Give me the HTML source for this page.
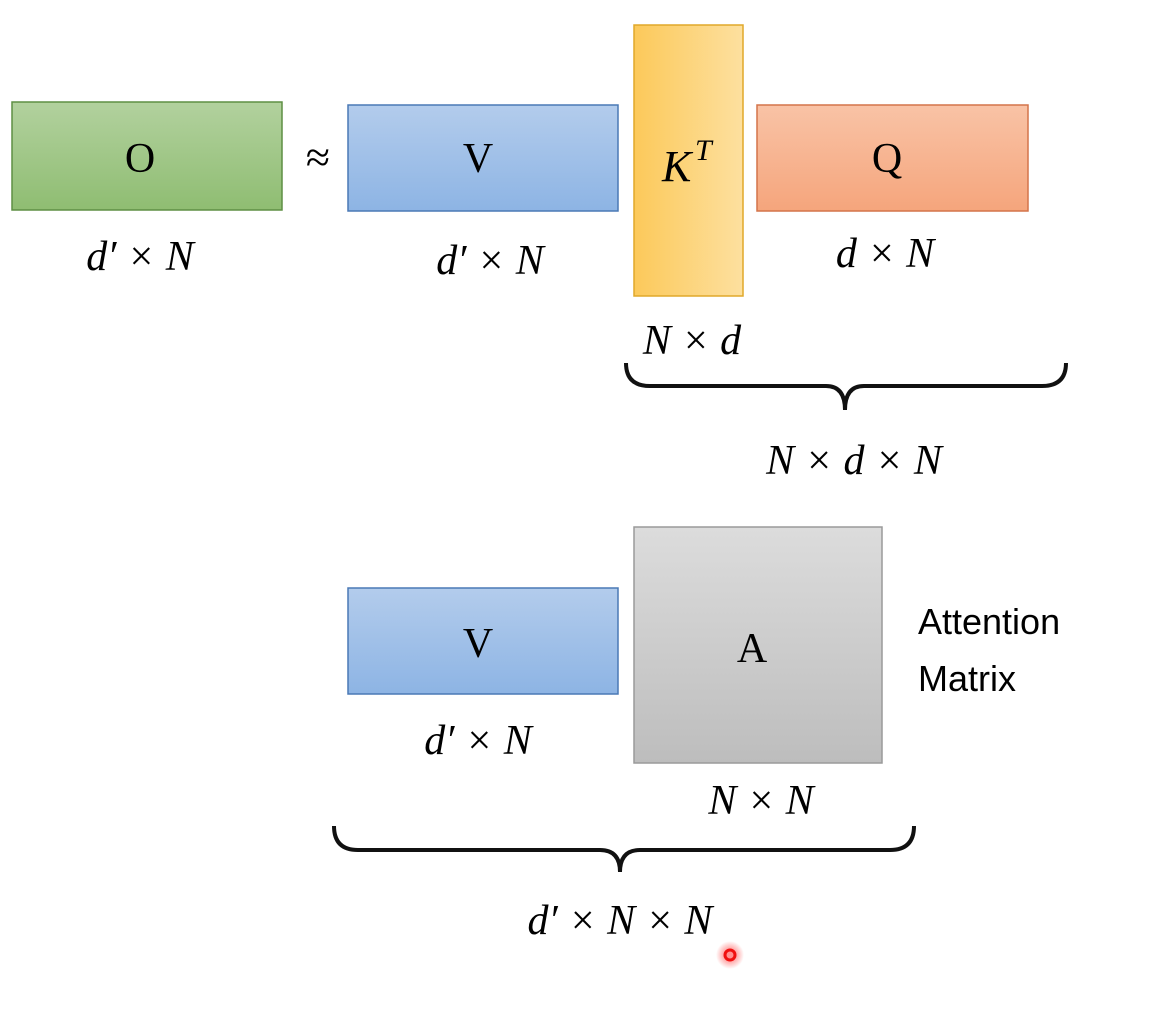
<!DOCTYPE html>
<html><head><meta charset="utf-8"><style>
html,body{margin:0;padding:0;background:#fff}
svg text{font-family:"Liberation Serif",serif}
</style></head><body>
<svg width="1165" height="1021" viewBox="0 0 1165 1021" xmlns="http://www.w3.org/2000/svg">
<defs>
<linearGradient id="g" x1="0" y1="0" x2="0" y2="1"><stop offset="0" stop-color="#b2d19e"/><stop offset="1" stop-color="#8fbd72"/></linearGradient>
<linearGradient id="b" x1="0" y1="0" x2="0" y2="1"><stop offset="0" stop-color="#b3ccec"/><stop offset="1" stop-color="#8db4e4"/></linearGradient>
<linearGradient id="y" x1="0" y1="0" x2="1" y2="0"><stop offset="0" stop-color="#fcc95a"/><stop offset="1" stop-color="#fde09f"/></linearGradient>
<linearGradient id="o" x1="0" y1="0" x2="0" y2="1"><stop offset="0" stop-color="#f9c3a6"/><stop offset="1" stop-color="#f5a57c"/></linearGradient>
<linearGradient id="gr" x1="0" y1="0" x2="0" y2="1"><stop offset="0" stop-color="#dcdcdc"/><stop offset="1" stop-color="#bdbdbd"/></linearGradient>
<radialGradient id="rd"><stop offset="0.3" stop-color="#ff2020"/><stop offset="1" stop-color="#ff2020" stop-opacity="0"/></radialGradient>
</defs>
<rect x="12" y="102" width="270" height="108" fill="url(#g)" stroke="#5e8f44" stroke-width="1.5"/>
<text x="140" y="172" font-size="42" text-anchor="middle">O</text>
<text x="318" y="172" font-size="44" text-anchor="middle">≈</text>
<rect x="348" y="105" width="270" height="106" fill="url(#b)" stroke="#4a79b5" stroke-width="1.5"/>
<text x="478" y="172" font-size="42" text-anchor="middle">V</text>
<rect x="634" y="25" width="109" height="271" fill="url(#y)" stroke="#e0a82a" stroke-width="1.5"/>
<text x="662" y="181" font-size="44" font-style="italic">K</text>
<text x="695" y="160" font-size="30" font-style="italic">T</text>
<rect x="757" y="105" width="271" height="106" fill="url(#o)" stroke="#d4744a" stroke-width="1.5"/>
<text x="887" y="172" font-size="42" text-anchor="middle">Q</text>
<g font-size="42" font-style="italic">
<text x="140" y="270" text-anchor="middle">d′ × N</text>
<text x="490" y="274" text-anchor="middle">d′ × N</text>
<text x="885" y="267" text-anchor="middle">d × N</text>
<text x="692" y="354" text-anchor="middle">N × d</text>
<text x="854" y="474" text-anchor="middle">N × d × N</text>
<text x="478" y="754" text-anchor="middle">d′ × N</text>
<text x="761" y="814" text-anchor="middle">N × N</text>
<text x="620" y="934" text-anchor="middle">d′ × N × N</text>
</g>
<path d="M626 363 Q626 386 650 386 L826 386 Q845 386 845 410 Q845 386 864 386 L1042 386 Q1066 386 1066 363" fill="none" stroke="#111" stroke-width="4"/>
<rect x="348" y="588" width="270" height="106" fill="url(#b)" stroke="#4a79b5" stroke-width="1.5"/>
<text x="478" y="657" font-size="42" text-anchor="middle">V</text>
<rect x="634" y="527" width="248" height="236" fill="url(#gr)" stroke="#9a9a9a" stroke-width="1.5"/>
<text x="752" y="662" font-size="42" text-anchor="middle">A</text>
<text x="918" y="634" font-size="36" font-family="Liberation Sans, sans-serif" style="font-family:'Liberation Sans',sans-serif">Attention</text>
<text x="918" y="691" font-size="36" style="font-family:'Liberation Sans',sans-serif">Matrix</text>
<path d="M334 826 Q334 850 358 850 L600 850 Q620 850 620 872 Q620 850 640 850 L890 850 Q914 850 914 826" fill="none" stroke="#111" stroke-width="4"/>
<circle cx="730" cy="955" r="14" fill="url(#rd)" opacity="0.5"/>
<circle cx="730" cy="955" r="5" fill="none" stroke="#f01010" stroke-width="3"/>
</svg>
</body></html>
